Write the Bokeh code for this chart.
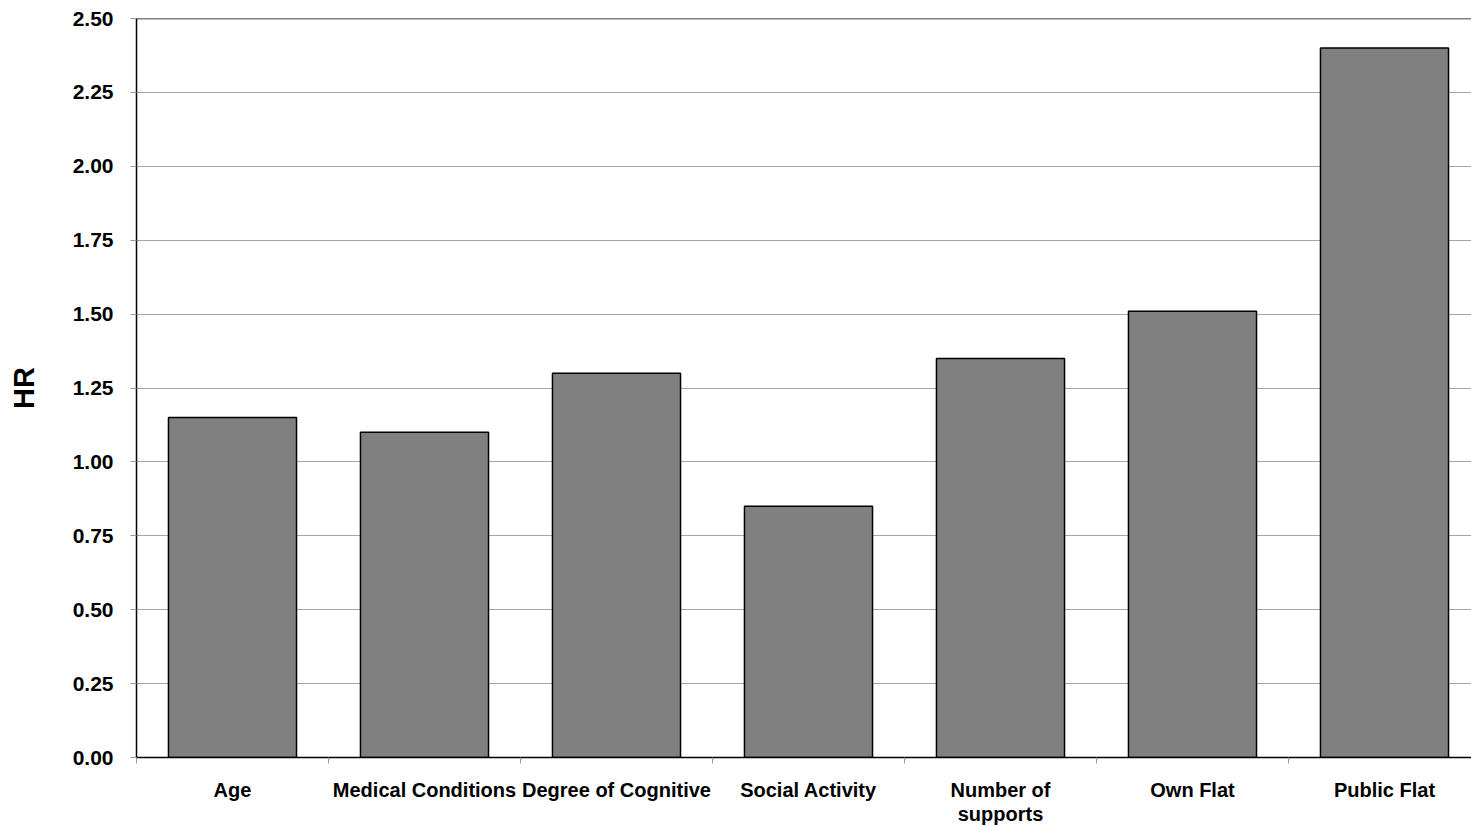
from bokeh.plotting import figure
from bokeh.models import (Range1d, FixedTicker, SingleIntervalTicker, NumeralTickFormatter,
                          ColumnDataSource, Span)
from bokeh.embed import file_html
from bokeh.resources import INLINE

categories = ["Age", "Medical Conditions", "Degree of Cognitive", "Social Activity",
              "Number of\nsupports", "Own Flat", "Public Flat"]
hr_values = [1.15, 1.10, 1.30, 0.85, 1.35, 1.51, 2.40]

W, H = 1471, 827
left, top, bottom = 136, 18, 70
cat_px = 192.0
n_visible = (W - left) / cat_px

xs = [i + 0.5 for i in range(len(categories))]
src = ColumnDataSource(dict(x=xs, top=hr_values))

p = figure(width=W, height=H, output_backend="svg", toolbar_location=None,
           x_range=Range1d(0, n_visible), y_range=Range1d(0, 2.5),
           min_border_left=left, min_border_top=top, min_border_bottom=bottom,
           min_border_right=0)
p.background_fill_color = "white"
p.border_fill_color = "white"
p.outline_line_color = None

p.vbar(x="x", top="top", width=0.667, bottom=0, source=src,
       fill_color="#808080", line_color="black", line_width=1.5)

# y axis
p.yaxis.ticker = SingleIntervalTicker(interval=0.25)
p.yaxis.formatter = NumeralTickFormatter(format="0.00")
p.yaxis.major_label_text_font = "Liberation Sans"
p.yaxis.major_label_text_font_style = "bold"
p.yaxis.major_label_text_font_size = "21px"
p.yaxis.major_label_text_color = "black"
p.yaxis.major_tick_out = 6
p.yaxis.major_tick_in = 0
p.yaxis.major_tick_line_color = "#999999"
p.yaxis.minor_tick_line_color = None
p.yaxis.major_label_standoff = 17
p.yaxis.axis_line_color = "black"
p.yaxis.axis_line_width = 1.5
p.yaxis.axis_label = "HR"
p.yaxis.axis_label_text_font = "Liberation Sans"
p.yaxis.axis_label_text_font_style = "bold"
p.yaxis.axis_label_text_font_size = "29px"
p.yaxis.axis_label_text_color = "black"
p.yaxis.axis_label_standoff = 30

# x axis
p.xaxis.ticker = FixedTicker(ticks=xs, minor_ticks=list(range(len(categories) + 1)))
p.xaxis.major_label_overrides = {x: c for x, c in zip(xs, categories)}
p.xaxis.major_label_text_font = "Liberation Sans"
p.xaxis.major_label_text_font_style = "bold"
p.xaxis.major_label_text_font_size = "20px"
p.xaxis.major_label_text_line_height = 1.1
p.xaxis.major_label_text_color = "black"
p.xaxis.major_tick_out = 0
p.xaxis.major_tick_in = 0
p.xaxis.minor_tick_out = 6
p.xaxis.minor_tick_in = 0
p.xaxis.minor_tick_line_color = "#999999"
p.xaxis.major_label_standoff = 15
p.xaxis.axis_line_color = "black"
p.xaxis.axis_line_width = 1.5

p.xgrid.grid_line_color = None
p.ygrid.grid_line_color = "#a6a6a6"
p.ygrid.grid_line_width = 1

p.add_layout(Span(location=2.5, dimension="width", line_color="black", line_width=1.5))

open("out.html", "w").write(file_html(p, INLINE))
